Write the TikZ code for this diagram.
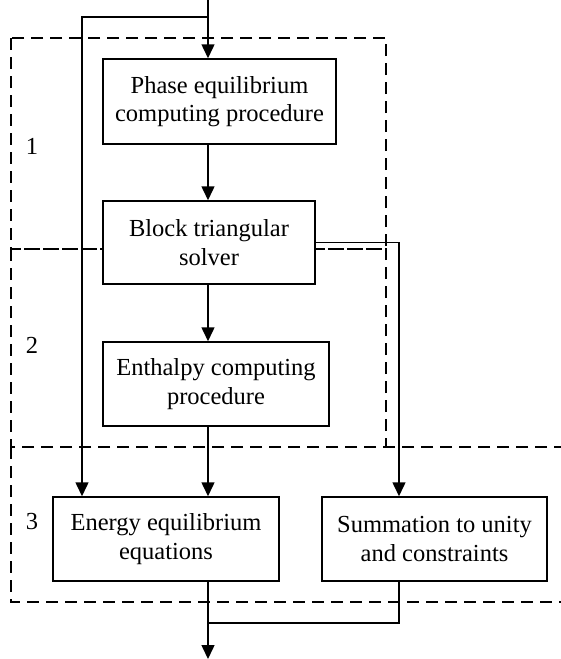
\documentclass[tikz,border=0pt]{standalone}
\usepackage{fontspec}
\setmainfont{Liberation Serif}
\usetikzlibrary{arrows.meta}
\begin{document}
\begin{tikzpicture}[x=1pt,y=-1pt,
  box/.style={draw,line width=1.5pt,fill=white,inner sep=0pt,align=center,
    font=\fontsize{24.5}{28.5}\selectfont},
  grp/.style={draw,line width=2.4pt,dash pattern=on 12pt off 7pt},
  lbl/.style={font=\fontsize{24.5}{28.5}\selectfont,inner sep=0pt},
  ln/.style={line width=1.5pt},
  arr/.style={ln,-{Triangle[length=14pt,width=13pt]}}]
\useasboundingbox (0,0) rectangle (560,659);
% dashed groups
\draw[grp] (11,38) rectangle (386,249);
\draw[grp] (11,249) rectangle (386,447);
\draw[grp] (11,447) rectangle (580,602);
% labels
\node[lbl] (l1) at (32,146) {1};
\node[lbl] (l2) at (32,345) {2};
\node[lbl] (l3) at (32,522) {3};
% nodes
\node[box,minimum width=233pt,minimum height=85pt] (phase) at (219.5,101.5) {Phase equilibrium\\computing procedure};
\node[box,minimum width=212pt,minimum height=83pt] (block) at (209,242.5) {Block triangular\\solver};
\node[box,minimum width=226pt,minimum height=84pt] (enth) at (216,384) {Enthalpy computing\\procedure};
\node[box,minimum width=226pt,minimum height=84pt] (energy) at (166,539) {Energy equilibrium\\equations};
\node[box,minimum width=225pt,minimum height=84pt] (sum) at (434.5,539) {Summation to unity\\and constraints};
% coordinates
\coordinate (in) at (208,0);
\coordinate (br) at (208,17);
\coordinate (lft) at (82,17);
\coordinate (mid) at (208,0);
\coordinate (rt) at (399,242.5);
\coordinate (join) at (399,623);
\coordinate (out) at (208,659);
% connectors
\draw[arr] (in) -- (in |- phase.north);
\draw[arr] (br) -- (lft) -- (lft |- energy.north);
\draw[arr] (mid |- phase.south) -- (mid |- block.north);
\draw[arr] (mid |- block.south) -- (mid |- enth.north);
\draw[arr] (mid |- enth.south) -- (mid |- energy.north);
\draw[arr] (block.east) -- (rt) -- (rt |- sum.north);
\draw[arr] (mid |- energy.south) -- (out);
\draw[ln] (rt |- sum.south) -- (join) -- (mid |- join);
\end{tikzpicture}
\end{document}
